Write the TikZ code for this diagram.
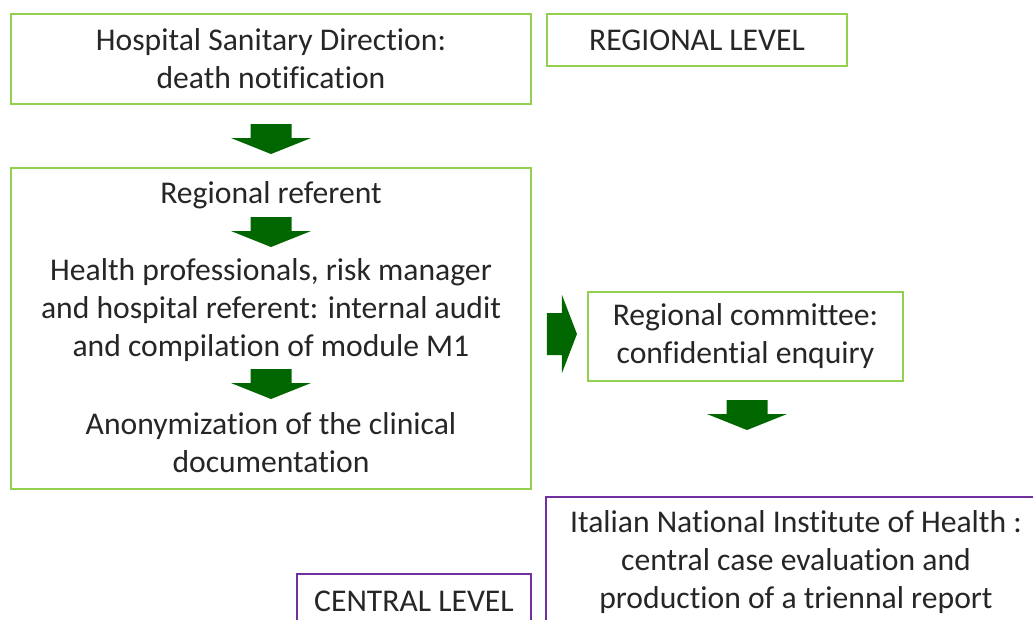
\documentclass[tikz,border=0pt]{standalone}
\usepackage{fontspec}
\setmainfont[Ligatures=NoCommon, RawFeature={-liga;-clig;-calt}]{Carlito}
\usetikzlibrary{calc}
\definecolor{boxgreen}{RGB}{146, 208, 80}
\definecolor{arrowgreen}{RGB}{0, 102, 0}
\definecolor{boxpurple}{RGB}{112, 48, 160}
\definecolor{txtgray}{RGB}{38, 38, 38}
\newcommand{\boxfont}{\fontsize{22.5}{27}\selectfont}
\tikzstyle{greenbox} = [draw=boxgreen, outer sep=0, inner sep=0,
    line width=2pt, align=center, text=txtgray, font=\boxfont]
\tikzstyle{purplebox} = [draw=boxpurple, outer sep=0, inner sep=0,
    line width=2pt, align=center, text=txtgray, font=\boxfont]
\tikzstyle{plaintext} = [align=center, text=txtgray, font=\boxfont, inner sep=0]
\tikzstyle{blockarrow} = [fill=arrowgreen, draw=none]
% block arrows, argument = top (or left) middle point
\newcommand{\downblock}[1]{\fill[blockarrow, shift={#1}] (-20.5,0) -- (20.5,0) -- (20.5,14)
    -- (40,14) -- (0,30) -- (-40,14) -- (-20.5,14) -- cycle;}
\newcommand{\rightblock}[1]{\fill[blockarrow, shift={#1}] (0,-21) -- (0,21) -- (15,21)
    -- (15,39) -- (30,0) -- (15,-39) -- (15,-21) -- cycle;}

\begin{document}
\begin{tikzpicture}[x=0.025cm, y=-0.025cm]
\useasboundingbox (0,0) rectangle (1033,619);



%%% regional level
\node[greenbox, minimum width=13cm, minimum height=2.25cm] (hsd) at (271,59) {Hospital Sanitary Direction:\\ death notification};
\node[greenbox, minimum width=7.5cm, minimum height=1.3cm] (reglevel) at (697,40) {REGIONAL LEVEL};


\node[greenbox, minimum width=13cm, minimum height=8.025cm] (audit) at (271,328.5) {};
\node[plaintext] (ref) at (271,195) {Regional referent};
\node[plaintext] (hp) at (271,310) {Health professionals, risk manager\\ and hospital referent: internal audit\\ and compilation of module M1};
\node[plaintext] (anon) at (271,443) {Anonymization of the clinical\\ documentation};

\node[greenbox, minimum width=7.875cm, minimum height=2.225cm] (comm) at (745.5,336.5) {Regional committee:\\ confidential enquiry};


%%% central level
\node[purplebox, minimum width=12.5cm, minimum height=3.25cm] (iss) at (796,562) {Italian National Institute of Health :\\ central case evaluation and\\ production of a triennal report};
\node[purplebox, minimum width=5.85cm, minimum height=1.35cm] (central) at (414,601) {CENTRAL LEVEL};


%%% arrows
\downblock{($(hsd.south)+(0,20)$)}
\downblock{($(ref)+(0,22)$)}
\downblock{($(hp)+(0,59)$)}
\rightblock{($(comm.west)+(-41,-2.5)$)}
\downblock{($(comm.south)+(1.5,19)$)}


\end{tikzpicture}
\end{document}
